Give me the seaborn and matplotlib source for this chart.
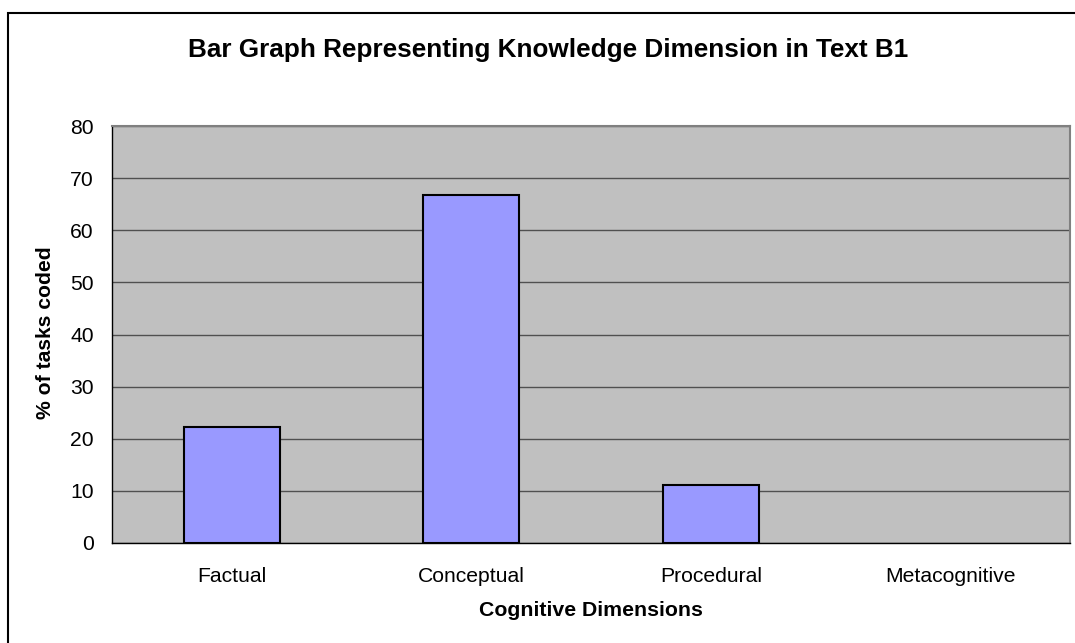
import matplotlib
matplotlib.use("Agg")
import matplotlib.pyplot as plt
import seaborn as sns
import pandas as pd
from matplotlib.patches import Rectangle

categories = ["Factual", "Conceptual", "Procedural", "Metacognitive"]
values = [22.2, 66.7, 11.1, 0.0]
y_ticks = [0, 10, 20, 30, 40, 50, 60, 70, 80]

sns.set_style("white")
plt.rcParams['font.family'] = ['Liberation Sans', 'DejaVu Sans']
plt.rcParams['text.color'] = 'black'
plt.rcParams['xtick.color'] = 'black'
plt.rcParams['ytick.color'] = 'black'

fig = plt.figure(figsize=(10.75, 6.43), dpi=100)
ax = fig.add_axes([112/1075, 1-543/643, (1070-112)/1075, (543-126)/643])

df = pd.DataFrame({"cat": categories, "val": values})
sns.barplot(data=df, x="cat", y="val", ax=ax, color="#9999FF", width=0.4,
            edgecolor="black", linewidth=1.5, saturation=1, zorder=3)
for p in ax.patches:
    if p.get_height() == 0:
        p.set_linewidth(0)

ax.set_facecolor("#C0C0C0")
ax.set_ylim(0, 80)
ax.set_xlim(-0.5, 3.5)
ax.set_yticks(y_ticks)
ax.set_yticklabels([str(t) for t in y_ticks], fontsize=15.2)
ax.yaxis.grid(True, color="#505050", linewidth=1, zorder=0)
ax.set_axisbelow(True)

ax.set_xticks([-0.5, 0.5, 1.5, 2.5, 3.5])
ax.set_xticklabels([])
ax.set_xticks([0, 1, 2, 3], minor=True)
ax.set_xticklabels(categories, minor=True, fontsize=15.2)
ax.tick_params(axis="x", which="minor", length=0, pad=17)
ax.tick_params(axis="x", which="major", length=6, width=1, color="black", direction="out")
ax.tick_params(axis="y", length=6, width=1, color="black", direction="out", pad=7)

for s in ["top", "right"]:
    ax.spines[s].set_color("#808080")
    ax.spines[s].set_linewidth(1.5)
for s in ["left", "bottom"]:
    ax.spines[s].set_color("black")
    ax.spines[s].set_linewidth(1)

ax.set_xlabel("")
ax.set_ylabel("")

fig.text(548.5/1075, 1-50/643, "Bar Graph Representing Knowledge Dimension in Text B1",
         ha="center", va="center", fontsize=18.8, fontweight="bold")
fig.text(591/1075, 1-610/643, "Cognitive Dimensions", ha="center", va="center",
         fontsize=15.3, fontweight="bold")
fig.text(45.5/1075, 1-333/643, "% of tasks coded", ha="center", va="center",
         fontsize=15.2, fontweight="bold", rotation=90)

fig.patches.append(Rectangle((8/1075, -0.1), 1.2, 1.1 - 13/643, transform=fig.transFigure,
                             fill=False, edgecolor="black", linewidth=1.5))

fig.savefig("out.png", dpi=100, facecolor="white")
